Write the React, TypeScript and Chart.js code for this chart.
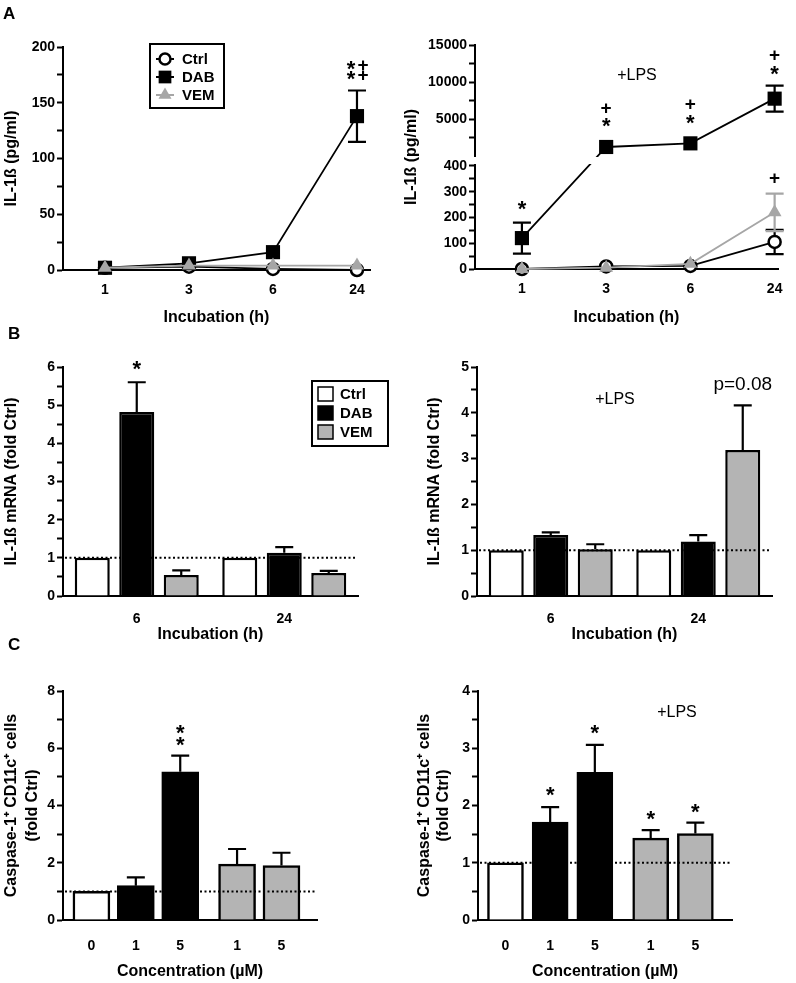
import React, { useEffect, useRef } from 'react';
import { Chart, registerables } from 'chart.js';

Chart.register(...registerables);

const FONT = "'Liberation Sans', Arial, Helvetica, sans-serif";
const TICK_FAMILY = "'Liberation Sans', Arial, sans-serif";
const STAR_FONT = "bold 22px 'Liberation Sans', Arial, sans-serif";
const PLUS_FONT = "bold 19px 'Liberation Sans', Arial, sans-serif";

const BLACK = '#000000';
const LINE_GRAY = '#a6a6a6';
const BAR_GRAY = '#b4b4b4';
const WHITE = '#ffffff';

// ===== Panel A: IL-1ß protein over time =====
const hours = ['1', '3', '6', '24'];
const aCtrl = [2, 3, 1, 0];
const aCtrlSem = [0, 0, 0, 0];
const aDab = [2, 6, 16, 138];
const aDabSem = [0, 0, 0, 23];
const aVem = [2, 4, 4, 4];
const aVemSem = [0, 0, 0, 0];
const aYTicks = [0, 25, 50, 75, 100, 125, 150, 175, 200];

const aLpsCtrl = [0, 10, 12, 105];
const aLpsCtrlSem = [0, 0, 0, 47];
const aLpsDab = [120, 1220, 1710, 7750];
const aLpsDabSem = [60, 0, 0, 1750];
const aLpsVem = [0, 5, 20, 220];
const aLpsVemSem = [0, 0, 0, 73];
const aLpsLowerTicks = [0, 50, 100, 150, 200, 250, 300, 350, 400];
const aLpsUpperTicks = [2500, 5000, 7500, 10000, 12500, 15000];

// ===== Panel B: IL-1ß mRNA =====
const bHours = ['6', '24'];
const bCtrl = [1, 1];
const bDab = [4.82, 1.13];
const bDabSem = [0.78, 0.15];
const bVem = [0.55, 0.6];
const bVemSem = [0.12, 0.06];
const bLpsCtrl = [1, 1];
const bLpsDab = [1.33, 1.19];
const bLpsDabSem = [0.06, 0.14];
const bLpsVem = [1.02, 3.19];
const bLpsVemSem = [0.11, 0.97];
const bYTicks = [0, 0.5, 1, 1.5, 2, 2.5, 3, 3.5, 4, 4.5, 5, 5.5, 6];
const bLpsYTicks = [0, 0.5, 1, 1.5, 2, 2.5, 3, 3.5, 4, 4.5, 5];

// ===== Panel C: Caspase-1+ CD11c+ cells =====
const cConc = ['0', '1', '5', '1', '5'];
const cGroup = ['Ctrl', 'DAB', 'DAB', 'VEM', 'VEM'];
const cVal = [1, 1.2, 5.18, 1.95, 1.9];
const cSem = [0, 0.29, 0.56, 0.53, 0.45];
const cLpsVal = [1, 1.71, 2.58, 1.43, 1.51];
const cLpsSem = [0, 0.26, 0.48, 0.14, 0.19];
const cYTicks = [0, 1, 2, 3, 4, 5, 6, 7, 8];
const cLpsYTicks = [0, 0.5, 1, 1.5, 2, 2.5, 3, 3.5, 4];

const groupColor: Record<string, string> = { Ctrl: WHITE, DAB: BLACK, VEM: BAR_GRAY };

// ---- broken axis mapping for panel A (+LPS) ----
const BRK = 400;
const BRK_GAP = 38.8;
const UPPER_BASE = BRK + BRK_GAP;
const UPPER_RATIO = 0.02874;
const toD = (v: number) => (v <= BRK ? v : UPPER_BASE + v * UPPER_RATIO);
const fromD = (d: number) => (d <= BRK + 1e-6 ? d : (d - UPPER_BASE) / UPPER_RATIO);

type Box = { cl: number; ct: number; cw: number; ch: number; L: number; T: number; R: number; B: number };

const boxAL: Box = { cl: 0, ct: 20, cw: 392, ch: 309, L: 63, T: 47, R: 370, B: 270 };
const boxAR: Box = { cl: 400, ct: 20, cw: 396, ch: 309, L: 475, T: 45, R: 778, B: 269 };
const boxBL: Box = { cl: 0, ct: 340, cw: 392, ch: 306, L: 63, T: 367, R: 358, B: 596 };
const boxBR: Box = { cl: 423, ct: 340, cw: 373, ch: 306, L: 477, T: 367, R: 772, B: 596 };
const boxCL: Box = { cl: 0, ct: 660, cw: 392, ch: 323, L: 63, T: 691, R: 317, B: 920 };
const boxCR: Box = { cl: 414, ct: 660, cw: 382, ch: 323, L: 478, T: 691, R: 732, B: 920 };

const tickFont = { family: TICK_FAMILY, size: 14, weight: 'bold' as const };
const titleFont = (lh = 1.2) => ({ family: FONT, size: 16, weight: 'bold' as const, lineHeight: lh });
const isInt = (v: number) => Math.abs(v - Math.round(v)) < 1e-6;

function layoutOf(b: Box) {
  return { padding: { top: b.T - b.ct, right: b.cl + b.cw - b.R, left: 0, bottom: 0 } };
}

function yScale(b: Box, ticks: number[], label: (v: number) => string, title: any, lh = 1.2, max?: number) {
  return {
    type: 'linear',
    min: 0,
    max: max ?? ticks[ticks.length - 1],
    afterFit: (s: any) => { s.width = b.L - b.cl; },
    afterBuildTicks: (s: any) => { s.ticks = ticks.map((v) => ({ value: v })); },
    ticks: { autoSkip: false, color: BLACK, font: tickFont, padding: 2, callback: (v: number) => label(v) },
    grid: { drawOnChartArea: false, drawTicks: true, tickLength: 6, tickWidth: 2, tickColor: BLACK },
    border: { display: true, width: 2, color: BLACK },
    title: { display: true, text: title, color: BLACK, font: titleFont(lh), padding: { top: 1.6, bottom: 0 } },
  };
}

function xBase(b: Box, pad: number, title: string) {
  return {
    afterFit: (s: any) => { s.height = b.ct + b.ch - b.B; },
    grid: { display: false, drawTicks: false, drawOnChartArea: false },
    border: { display: true, width: 2, color: BLACK },
    title: { display: true, text: title, color: BLACK, font: titleFont(), padding: { top: 0, bottom: 2 } },
    ticks: { autoSkip: false, maxRotation: 0, color: BLACK, font: tickFont, padding: pad },
  };
}

// ---- plugins ----
function errorBarsPlugin(both: boolean, tf: (v: number) => number = (v) => v, cap = 18) {
  return {
    id: 'errorBars',
    beforeDatasetsDraw(chart: any) {
      const ctx = chart.ctx;
      const ys = chart.scales.y;
      chart.data.datasets.forEach((ds: any, di: number) => {
        if (!ds.sem) return;
        const meta = chart.getDatasetMeta(di);
        meta.data.forEach((el: any, i: number) => {
          const s = ds.sem[i];
          if (!s) return;
          const m = ds.raw[i];
          const top = ys.getPixelForValue(tf(m + s));
          const bot = both ? ys.getPixelForValue(tf(m - s)) : el.y;
          ctx.save();
          ctx.strokeStyle = ds.errColor || BLACK;
          ctx.lineWidth = 2.2;
          ctx.beginPath();
          ctx.moveTo(el.x, bot);
          ctx.lineTo(el.x, top);
          ctx.moveTo(el.x - cap / 2, top);
          ctx.lineTo(el.x + cap / 2, top);
          if (both) {
            ctx.moveTo(el.x - cap / 2, bot);
            ctx.lineTo(el.x + cap / 2, bot);
          }
          ctx.stroke();
          ctx.restore();
        });
      });
    },
  };
}

type Note = { ds: number; i: number; lines: string[]; offset: number; gap?: number; dx?: number; font?: string; marker?: number };

function notesPlugin(notes: Note[], tf: (v: number) => number = (v) => v) {
  return {
    id: 'notes',
    afterDatasetsDraw(chart: any) {
      const ctx = chart.ctx;
      const ys = chart.scales.y;
      for (const n of notes) {
        const ds = chart.data.datasets[n.ds];
        const el = chart.getDatasetMeta(n.ds).data[n.i];
        const m = ds.raw[n.i];
        const s = (ds.sem && ds.sem[n.i]) || 0;
        let top = ys.getPixelForValue(tf(m + s));
        if (n.marker) top = Math.min(top, el.y - n.marker);
        n.lines.forEach((t, k) => {
          const cy = top - n.offset - k * (n.gap ?? 15);
          ctx.save();
          ctx.font = n.font || (t === '*' ? STAR_FONT : PLUS_FONT);
          ctx.fillStyle = BLACK;
          ctx.textAlign = 'center';
          ctx.textBaseline = 'alphabetic';
          const mt = ctx.measureText(t);
          const base = cy + (mt.actualBoundingBoxAscent - mt.actualBoundingBoxDescent) / 2;
          ctx.fillText(t, el.x + (n.dx || 0), base);
          ctx.restore();
        });
      }
    },
  };
}

function refLinePlugin(value: number) {
  return {
    id: 'refLine',
    afterDatasetsDraw(chart: any) {
      const ctx = chart.ctx;
      const a = chart.chartArea;
      const y = chart.scales.y.getPixelForValue(value);
      ctx.save();
      ctx.setLineDash([2, 2.5]);
      ctx.lineWidth = 2;
      ctx.strokeStyle = BLACK;
      ctx.beginPath();
      ctx.moveTo(a.left + 2, y);
      ctx.lineTo(a.right - 2, y);
      ctx.stroke();
      ctx.restore();
    },
  };
}

function breakPlugin() {
  return {
    id: 'axisBreak',
    afterDatasetsDraw(chart: any) {
      const ctx = chart.ctx;
      const a = chart.chartArea;
      const ys = chart.scales.y;
      const yLow = ys.getPixelForValue(BRK);
      const yHigh = ys.getPixelForValue(UPPER_BASE);
      ctx.clearRect(a.left - 3, yHigh + 0.5, a.right - a.left + 6, yLow - yHigh - 2);
    },
  };
}

function drawMarker(ctx: CanvasRenderingContext2D, style: string, x: number, y: number, r: number, fill: string, stroke: string, bw: number) {
  ctx.beginPath();
  if (style === 'circle') ctx.arc(x, y, r, 0, Math.PI * 2);
  else if (style === 'rect') {
    const s = r * Math.SQRT1_2;
    ctx.rect(x - s, y - s, 2 * s, 2 * s);
  } else {
    ctx.moveTo(x, y - r);
    ctx.lineTo(x + r * 0.866, y + r * 0.5);
    ctx.lineTo(x - r * 0.866, y + r * 0.5);
    ctx.closePath();
  }
  ctx.fillStyle = fill;
  ctx.fill();
  if (bw) {
    ctx.lineWidth = bw;
    ctx.strokeStyle = stroke;
    ctx.stroke();
  }
}

function lineLegendPlugin(b: Box, box: number[], rows: number[], mx: number, tx: number) {
  return {
    id: 'lineLegend',
    afterDraw(chart: any) {
      const ctx = chart.ctx;
      const ox = b.cl, oy = b.ct;
      ctx.save();
      ctx.fillStyle = WHITE;
      ctx.fillRect(box[0] - ox, box[1] - oy, box[2], box[3]);
      ctx.lineWidth = 2;
      ctx.strokeStyle = BLACK;
      ctx.strokeRect(box[0] - ox, box[1] - oy, box[2], box[3]);
      chart.data.datasets.forEach((ds: any, i: number) => {
        const y = rows[i] - oy;
        const x = mx - ox;
        ctx.strokeStyle = ds.borderColor;
        ctx.lineWidth = 2;
        ctx.beginPath();
        ctx.moveTo(x - 9, y);
        ctx.lineTo(x + 9, y);
        ctx.stroke();
        drawMarker(ctx, ds.pointStyle, x, y, ds.legendRadius, ds.pointBackgroundColor, ds.pointBorderColor, ds.pointBorderWidth);
        ctx.fillStyle = BLACK;
        ctx.font = `bold 15px ${FONT}`;
        ctx.textAlign = 'left';
        ctx.textBaseline = 'middle';
        ctx.fillText(ds.label, tx - ox, y + 1);
      });
      ctx.restore();
    },
  };
}

function barLegendPlugin(b: Box, box: number[], rows: number[], sx: number, tx: number) {
  return {
    id: 'barLegend',
    afterDraw(chart: any) {
      const ctx = chart.ctx;
      const ox = b.cl, oy = b.ct;
      ctx.save();
      ctx.fillStyle = WHITE;
      ctx.fillRect(box[0] - ox, box[1] - oy, box[2], box[3]);
      ctx.lineWidth = 2;
      ctx.strokeStyle = BLACK;
      ctx.strokeRect(box[0] - ox, box[1] - oy, box[2], box[3]);
      chart.data.datasets.forEach((ds: any, i: number) => {
        const y = rows[i] - oy;
        ctx.fillStyle = ds.backgroundColor;
        ctx.fillRect(sx - ox, y - 7, 15, 14);
        ctx.lineWidth = 1.5;
        ctx.strokeStyle = BLACK;
        ctx.strokeRect(sx - ox, y - 7, 15, 14);
        ctx.fillStyle = BLACK;
        ctx.font = `bold 15px ${FONT}`;
        ctx.textAlign = 'left';
        ctx.textBaseline = 'middle';
        ctx.fillText(ds.label, tx - ox, y + 1);
      });
      ctx.restore();
    },
  };
}

// ---- dataset builders ----
function lineDatasets(ctrl: number[], ctrlSem: number[], dab: number[], dabSem: number[], vem: number[], vemSem: number[], tf: (v: number) => number = (v) => v) {
  const pts = (arr: number[]) => arr.map((y, i) => ({ x: i, y: tf(y) }));
  return [
    {
      label: 'Ctrl', data: pts(ctrl), raw: ctrl, sem: ctrlSem, errColor: BLACK,
      borderColor: BLACK, backgroundColor: WHITE, borderWidth: 1.8, tension: 0, clip: false,
      pointStyle: 'circle', pointRadius: 6, pointBorderWidth: 2.5, pointBackgroundColor: WHITE, pointBorderColor: BLACK,
      legendRadius: 5.5, order: 2,
    },
    {
      label: 'DAB', data: pts(dab), raw: dab, sem: dabSem, errColor: BLACK,
      borderColor: BLACK, backgroundColor: BLACK, borderWidth: 1.8, tension: 0, clip: false,
      pointStyle: 'rect', pointRadius: 10, pointBorderWidth: 0, pointBackgroundColor: BLACK, pointBorderColor: BLACK,
      legendRadius: 9, order: 1,
    },
    {
      label: 'VEM', data: pts(vem), raw: vem, sem: vemSem, errColor: LINE_GRAY,
      borderColor: LINE_GRAY, backgroundColor: LINE_GRAY, borderWidth: 1.8, tension: 0, clip: false,
      pointStyle: 'triangle', pointRadius: 8, pointBorderWidth: 0, pointBackgroundColor: LINE_GRAY, pointBorderColor: LINE_GRAY,
      legendRadius: 7.5, order: 0,
    },
  ];
}

function barDatasets(ctrl: number[], dab: number[], dabSem: number[], vem: number[], vemSem: number[]) {
  const common = { borderColor: BLACK, borderWidth: 2.5, barPercentage: 0.787, categoryPercentage: 0.905 };
  return [
    { label: 'Ctrl', data: ctrl, raw: ctrl, sem: null, backgroundColor: WHITE, ...common },
    { label: 'DAB', data: dab, raw: dab, sem: dabSem, backgroundColor: BLACK, ...common },
    { label: 'VEM', data: vem, raw: vem, sem: vemSem, backgroundColor: BAR_GRAY, ...common },
  ];
}

// ---- chart configs ----
function configAL() {
  const b = boxAL;
  return {
    type: 'line',
    data: { datasets: lineDatasets(aCtrl, aCtrlSem, aDab, aDabSem, aVem, aVemSem) },
    options: {
      responsive: false, animation: false, layout: layoutOf(b),
      plugins: { legend: { display: false }, tooltip: { enabled: false } },
      scales: {
        x: { ...xBase(b, 12, 'Incubation (h)'), type: 'linear', min: -0.5, max: 3.155,
          afterBuildTicks: (s: any) => { s.ticks = hours.map((_, i) => ({ value: i })); },
          ticks: { ...xBase(b, 12, '').ticks, callback: (_v: any, i: number) => hours[i] } },
        y: yScale(b, aYTicks, (v) => (v % 50 === 0 ? String(v) : ''), 'IL-1ß (pg/ml)'),
      },
    },
    plugins: [
      errorBarsPlugin(true),
      notesPlugin([
        { ds: 1, i: 3, lines: ['*', '*'], offset: 15, gap: 10, dx: -6 },
        { ds: 1, i: 3, lines: ['+', '+'], offset: 15, gap: 10, dx: 6 },
      ]),
      lineLegendPlugin(b, [150, 44, 74, 64], [59, 77, 95], 165, 182),
    ],
  };
}

function configAR() {
  const b = boxAR;
  const yTicks = [...aLpsLowerTicks, ...aLpsUpperTicks].map(toD);
  return {
    type: 'line',
    data: { datasets: lineDatasets(aLpsCtrl, aLpsCtrlSem, aLpsDab, aLpsDabSem, aLpsVem, aLpsVemSem, toD) },
    options: {
      responsive: false, animation: false, layout: layoutOf(b),
      plugins: { legend: { display: false }, tooltip: { enabled: false } },
      scales: {
        x: { ...xBase(b, 12, 'Incubation (h)'), type: 'linear', min: -0.557, max: 3.04,
          afterBuildTicks: (s: any) => { s.ticks = hours.map((_, i) => ({ value: i })); },
          ticks: { ...xBase(b, 12, '').ticks, callback: (_v: any, i: number) => hours[i] } },
        y: yScale(b, yTicks, (d) => {
          const v = Math.round(fromD(d));
          if (d <= BRK + 1e-6) return v % 100 === 0 ? String(v) : '';
          return v % 5000 === 0 ? String(v) : '';
        }, 'IL-1ß (pg/ml)', 1.2, toD(15000)),
      },
    },
    plugins: [
      errorBarsPlugin(true, toD),
      breakPlugin(),
      notesPlugin([
        { ds: 1, i: 0, lines: ['*'], offset: 17 },
        { ds: 1, i: 1, lines: ['*', '+'], offset: 17, gap: 15, marker: 7 },
        { ds: 1, i: 2, lines: ['*', '+'], offset: 17, gap: 15, marker: 7 },
        { ds: 1, i: 3, lines: ['*', '+'], offset: 15, gap: 16 },
        { ds: 2, i: 3, lines: ['+'], offset: 16 },
      ], toD),
    ],
  };
}

function configB(b: Box, ticks: number[], ds: any[], notes: Note[], extra: any[]) {
  return {
    type: 'bar',
    data: { labels: bHours, datasets: ds },
    options: {
      responsive: false, animation: false, layout: layoutOf(b),
      plugins: { legend: { display: false }, tooltip: { enabled: false } },
      scales: {
        x: { ...xBase(b, 15, 'Incubation (h)'), type: 'category', offset: true },
        y: yScale(b, ticks, (v) => (isInt(v) ? String(Math.round(v)) : ''), 'IL-1ß mRNA (fold Ctrl)'),
      },
    },
    plugins: [errorBarsPlugin(false), refLinePlugin(1), notesPlugin(notes), ...extra],
  };
}

function configC(b: Box, ticks: number[], vals: number[], sems: number[], gap: number, xmin: number, xmax: number, barW: number, lh: number, label: (v: number) => string, notes: Note[]) {
  const pos = cGroup.map((g, i) => i + (g === 'VEM' ? gap : 0));
  return {
    type: 'bar',
    data: {
      datasets: [{
        label: 'cells', data: pos.map((x, i) => ({ x, y: vals[i] })), raw: vals, sem: sems,
        backgroundColor: cGroup.map((g) => groupColor[g]), borderColor: BLACK, borderWidth: 2.5, barThickness: barW,
      }],
    },
    options: {
      responsive: false, animation: false, layout: layoutOf(b),
      plugins: { legend: { display: false }, tooltip: { enabled: false } },
      scales: {
        x: { ...xBase(b, 18, 'Concentration (µM)'), type: 'linear', offset: false, min: xmin, max: xmax,
          afterBuildTicks: (s: any) => { s.ticks = pos.map((v) => ({ value: v })); },
          ticks: { ...xBase(b, 18, '').ticks, callback: (_v: any, i: number) => cConc[i] } },
        y: yScale(b, ticks, label, ['Caspase-1\u207A CD11c\u207A cells', '(fold Ctrl)'], lh),
      },
    },
    plugins: [errorBarsPlugin(false), refLinePlugin(1), notesPlugin(notes)],
  };
}

function Panel({ box, make }: { box: Box; make: () => any }) {
  const ref = useRef<HTMLCanvasElement>(null);
  useEffect(() => {
    const chart = new Chart(ref.current as HTMLCanvasElement, make());
    return () => chart.destroy();
  }, []);
  return (
    <canvas
      ref={ref}
      width={box.cw}
      height={box.ch}
      style={{ position: 'absolute', left: box.cl, top: box.ct, width: box.cw, height: box.ch }}
    />
  );
}

const letterStyle = (left: number, top: number): React.CSSProperties => ({
  position: 'absolute', left, top, fontFamily: FONT, fontWeight: 'bold', fontSize: 17, lineHeight: 1, color: BLACK,
});
const lpsStyle = (cx: number, cy: number): React.CSSProperties => ({
  position: 'absolute', left: cx, top: cy, transform: 'translate(-50%, -50%)', fontFamily: FONT, fontSize: 16,
  lineHeight: 1, color: BLACK, whiteSpace: 'nowrap',
});

export default function App() {
  Chart.defaults.font.family = FONT;
  return (
    <div style={{ position: 'absolute', left: 0, top: 0, width: 796, height: 983, background: WHITE, overflow: 'hidden' }}>
      <Panel box={boxAL} make={configAL} />
      <Panel box={boxAR} make={configAR} />
      <Panel
        box={boxBL}
        make={() => configB(boxBL, bYTicks, barDatasets(bCtrl, bDab, bDabSem, bVem, bVemSem),
          [{ ds: 1, i: 0, lines: ['*'], offset: 17 }],
          [barLegendPlugin(boxBL, [312, 381, 76, 65], [394, 413, 432], 318, 340)])}
      />
      <Panel
        box={boxBR}
        make={() => configB(boxBR, bLpsYTicks, barDatasets(bLpsCtrl, bLpsDab, bLpsDabSem, bLpsVem, bLpsVemSem),
          [{ ds: 2, i: 1, lines: ['p=0.08'], offset: 20, font: `19px ${FONT}` }], [])}
      />
      <Panel
        box={boxCL}
        make={() => configC(boxCL, cYTicks, cVal, cSem, 0.28, -0.64, 5.08, 37, 1.3,
          (v) => (v % 2 === 0 ? String(v) : ''),
          [{ ds: 0, i: 2, lines: ['*', '*'], offset: 14, gap: 12 }])}
      />
      <Panel
        box={boxCR}
        make={() => configC(boxCR, cLpsYTicks, cLpsVal, cLpsSem, 0.25, -0.615, 5.07, 36, 1.15,
          (v) => (isInt(v) ? String(Math.round(v)) : ''),
          [
            { ds: 0, i: 1, lines: ['*'], offset: 16 },
            { ds: 0, i: 2, lines: ['*'], offset: 15 },
            { ds: 0, i: 3, lines: ['*'], offset: 15 },
            { ds: 0, i: 4, lines: ['*'], offset: 14 },
          ])}
      />
      <div style={letterStyle(3, 5)}>A</div>
      <div style={letterStyle(8, 325)}>B</div>
      <div style={letterStyle(8, 636)}>C</div>
      <div style={lpsStyle(637, 75)}>+LPS</div>
      <div style={lpsStyle(615, 399)}>+LPS</div>
      <div style={lpsStyle(677, 712)}>+LPS</div>
    </div>
  );
}
